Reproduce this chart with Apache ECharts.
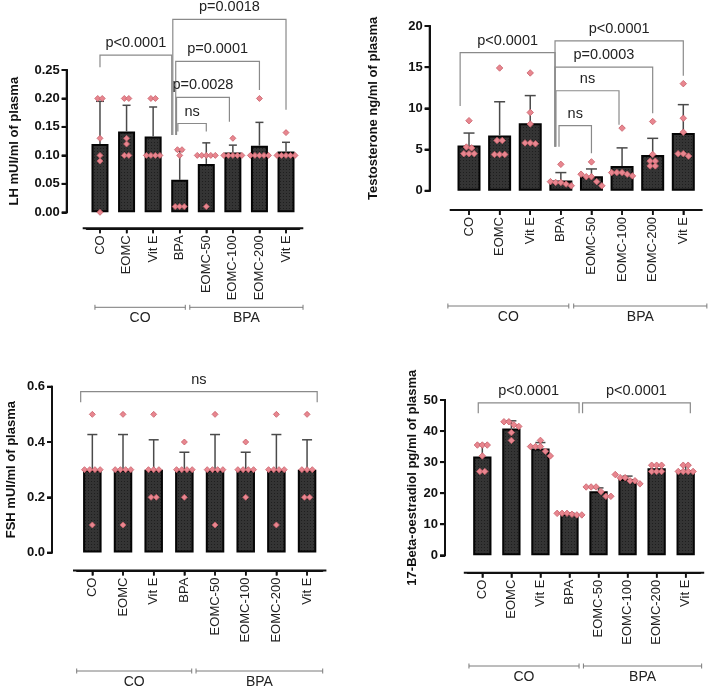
<!DOCTYPE html>
<html>
<head>
<meta charset="utf-8">
<script src="https://cdn.jsdelivr.net/npm/echarts@6/dist/echarts.min.js"></script>
<style>
html, body { margin: 0; padding: 0; background: #fff; }
#main { width: 709px; height: 693px; }
</style>
</head>
<body>
<div id="main"></div>
<script>
// groups on the x axis
var categories = ['CO', 'EOMC', 'Vit E', 'BPA', 'EOMC-50', 'EOMC-100', 'EOMC-200', 'Vit E'];
var groupNames = ['CO', 'BPA'];

// LH mUI/ml
var lhMean = [0.120, 0.142, 0.133, 0.057, 0.085, 0.105, 0.117, 0.107];
var lhSd = [0.075, 0.046, 0.052, 0.051, 0.037, 0.013, 0.041, 0.016];
var lhPoints = [
    [0.20, 0.20, 0.13, 0.10, 0.09, 0.00],
    [0.20, 0.20, 0.13, 0.12, 0.10, 0.10],
    [0.20, 0.20, 0.10, 0.10, 0.10, 0.10],
    [0.11, 0.11, 0.10, 0.01, 0.01, 0.01],
    [0.10, 0.10, 0.10, 0.10, 0.10, 0.01],
    [0.13, 0.10, 0.10, 0.10, 0.10, 0.10],
    [0.20, 0.10, 0.10, 0.10, 0.10, 0.10],
    [0.14, 0.10, 0.10, 0.10, 0.10, 0.10]
];
// [left, right, top, left leg end, right leg end] in category units / axis values
var lhBrackets = [
    [0.00, 2.70, 0.276, 0.255, 0.136],
    [2.74, 7.00, 0.339, 0.136, 0.180],
    [2.85, 6.00, 0.265, 0.136, 0.215],
    [2.88, 4.87, 0.202, 0.136, 0.159],
    [2.93, 4.00, 0.156, 0.142, 0.142]
];
var lhBracketText = ['p<0.0001', 'p=0.0018', 'p=0.0001', 'p=0.0028', 'ns'];

// Testosterone ng/ml
var tMean = [5.5, 6.7, 8.2, 1.25, 1.75, 3.0, 4.33, 7.0];
var tSd = [1.5, 4.1, 3.35, 0.95, 0.89, 2.2, 2.03, 3.45];
var tPoints = [
    [8.5, 5.3, 5.2, 4.5, 4.5, 4.5],
    [14.9, 6.1, 6.1, 4.4, 4.4, 4.4],
    [14.3, 9.5, 8.1, 5.8, 5.8, 5.7],
    [3.2, 1.1, 1.0, 1.0, 0.8, 0.6],
    [3.5, 2.0, 1.7, 1.7, 1.1, 0.6],
    [7.6, 2.2, 2.2, 2.2, 2.0, 1.8],
    [8.4, 4.4, 3.6, 3.6, 3.0, 3.0],
    [13.0, 8.8, 7.1, 4.5, 4.5, 4.2]
];
var tBrackets = [
    [-0.29, 2.81, 16.76, 10.3, 5.35],
    [2.81, 7.00, 18.2, 5.35, 13.96],
    [2.81, 6.00, 15.0, 5.35, 9.4],
    [2.84, 4.90, 12.14, 5.35, 8.0],
    [2.94, 4.00, 7.9, 5.35, 4.54]
];
var tBracketText = ['p<0.0001', 'p<0.0001', 'p=0.0003', 'ns', 'ns'];

// FSH mUI/ml
var fshMean = [0.30, 0.30, 0.30, 0.30, 0.30, 0.30, 0.30, 0.30];
var fshSd = [0.127, 0.127, 0.108, 0.063, 0.127, 0.063, 0.127, 0.108];
var fshPoints = [
    [0.5, 0.3, 0.3, 0.3, 0.3, 0.1],
    [0.5, 0.3, 0.3, 0.3, 0.3, 0.1],
    [0.5, 0.3, 0.3, 0.3, 0.2, 0.2],
    [0.4, 0.3, 0.3, 0.3, 0.3, 0.2],
    [0.5, 0.3, 0.3, 0.3, 0.3, 0.1],
    [0.4, 0.3, 0.3, 0.3, 0.3, 0.2],
    [0.5, 0.3, 0.3, 0.3, 0.3, 0.1],
    [0.5, 0.3, 0.3, 0.3, 0.2, 0.2]
];
var fshBrackets = [
    [-0.38, 7.33, 0.582, 0.544, 0.544]
];
var fshBracketText = ['ns'];

// 17-Beta-oestradiol pg/ml
var e2Mean = [31.8, 40.8, 34.4, 13.3, 20.6, 24.6, 28.0, 27.5];
var e2Sd = [3.9, 2.5, 1.9, 0.3, 1.1, 0.9, 1.0, 1.5];
var e2Points = [
    [35.5, 35.5, 35.5, 32.0, 27.0, 27.0],
    [43.0, 43.0, 42.0, 41.5, 39.5, 37.0],
    [37.0, 35.0, 35.0, 35.0, 33.5, 32.0],
    [13.5, 13.5, 13.5, 13.2, 13.0, 13.0],
    [22.0, 22.0, 22.0, 20.5, 19.0, 19.0],
    [26.0, 25.0, 25.0, 24.0, 24.0, 23.0],
    [29.0, 29.0, 29.0, 27.0, 27.0, 27.0],
    [29.0, 29.0, 27.0, 27.0, 27.0, 27.0]
];
var e2Brackets = [
    [-0.14, 3.33, 49.1, 45.7, 45.7],
    [3.45, 7.16, 49.1, 45.7, 45.7]
];
var e2BracketText = ['p<0.0001', 'p<0.0001'];

var FONT = '"Liberation Sans", Arial, Helvetica, sans-serif';

// dotted dark fill like the prism bars
var pat = document.createElement('canvas');
pat.width = 3; pat.height = 3;
var pg = pat.getContext('2d');
pg.fillStyle = '#343434';
pg.fillRect(0, 0, 3, 3);
pg.fillStyle = '#1e1e1e';
pg.fillRect(1, 1, 1, 1);

var panels = [
    {mean: lhMean, sd: lhSd, pts: lhPoints, br: lhBrackets, brText: lhBracketText,
     left: 86.7, top: 70, width: 212.6, height: 142.3, max: 0.25, interval: 0.05, dec: 2,
     yOff: 20, xOff: 16, barW: 17, cap: 8, sym: 6, nameGap: 46,
     name: 'LH mUI/ml of plasma', grpGap: 95, grpSpans: [[-0.19, 3.21], [3.38, 7.64]]},
    {mean: tMean, sd: tSd, pts: tPoints, br: tBrackets, brText: tBracketText,
     left: 453.7, top: 26, width: 244.9, height: 164.7, max: 20, interval: 5, dec: 0,
     yOff: 24, xOff: 19.3, barW: 23, cap: 11, sym: 6.5, nameGap: 50,
     name: 'Testosterone ng/ml of plasma', grpGap: 115.3, grpSpans: [[-0.69, 3.26], [3.42, 7.77]]},
    {mean: fshMean, sd: fshSd, pts: fshPoints, br: fshBrackets, brText: fshBracketText,
     left: 77, top: 386.7, width: 245.4, height: 165.9, max: 0.6, interval: 0.2, dec: 1,
     yOff: 25, xOff: 18, barW: 18.5, cap: 10, sym: 6, nameGap: 34,
     name: 'FSH mUI/ml of plasma', grpGap: 118.4, grpSpans: [[-0.51, 3.24], [3.38, 7.51]]},
    {mean: e2Mean, sd: e2Sd, pts: e2Points, br: e2Brackets, brText: e2BracketText,
     left: 467.8, top: 400, width: 232.4, height: 155.3, max: 50, interval: 10, dec: 0,
     yOff: 22.8, xOff: 17.4, barW: 18.3, cap: 10, sym: 6.5, nameGap: 26,
     name: '17-Beta-oestradiol pg/ml of plasma', grpGap: 110.7, grpSpans: [[-0.46, 3.33], [3.48, 7.55]]}
];

// spread points with (nearly) equal values side by side, like a scatter dot plot
function spread(vals, tol, i, band) {
    var sorted = vals.slice().sort(function (a, b) { return b - a; });
    var out = [], cluster = [];
    function flush() {
        var n = cluster.length;
        cluster.forEach(function (v, k) {
            out.push({value: [i, v], symbolOffset: [(k - (n - 1) / 2) * 0.17 * band, 0]});
        });
        cluster = [];
    }
    sorted.forEach(function (v) {
        if (cluster.length && Math.abs(cluster[cluster.length - 1] - v) > tol) flush();
        cluster.push(v);
    });
    if (cluster.length) flush();
    return out;
}

function errorRender(capW) {
    return function (params, api) {
        var x = api.value(0), m = api.value(1), s = api.value(2);
        var p0 = api.coord([x, m]), p1 = api.coord([x, m + s]);
        var st = {stroke: '#4a4a4a', lineWidth: 1.5};
        return {type: 'group', children: [
            {type: 'line', shape: {x1: p0[0], y1: p0[1], x2: p1[0], y2: p1[1]}, style: st},
            {type: 'line', shape: {x1: p1[0] - capW / 2, y1: p1[1], x2: p1[0] + capW / 2, y2: p1[1]}, style: st}
        ]};
    };
}

// data: [0, top, left, right, left leg end, right leg end]; x in category units from the first bar
function bracketRender(texts, band) {
    return function (params, api) {
        var x0 = api.coord([0, 0])[0];
        var top = api.coord([0, api.value(1)])[1];
        var xl = x0 + api.value(2) * band, xr = x0 + api.value(3) * band;
        var yl = api.coord([0, api.value(4)])[1], yr = api.coord([0, api.value(5)])[1];
        return {type: 'group', children: [
            {type: 'polyline', shape: {points: [[xl, yl], [xl, top], [xr, top], [xr, yr]]},
             style: {stroke: '#8a8a8a', lineWidth: 1.2, fill: 'none'}},
            {type: 'text', style: {text: texts[params.dataIndex], x: (xl + xr) / 2, y: top - 12,
             align: 'center', verticalAlign: 'middle', fontSize: 14.5, fontFamily: FONT, fill: '#222'}}
        ]};
    };
}

// data: [0, 0, start, end]
function groupRender(gap, band) {
    return function (params, api) {
        var o = api.coord([0, 0]);
        var base = o[1] + gap;
        var x1 = o[0] + api.value(2) * band, x2 = o[0] + api.value(3) * band;
        var st = {stroke: '#7a7a7a', lineWidth: 1};
        return {type: 'group', children: [
            {type: 'line', shape: {x1: x1, y1: base, x2: x2, y2: base}, style: st},
            {type: 'line', shape: {x1: x1, y1: base - 2.5, x2: x1, y2: base + 2.5}, style: st},
            {type: 'line', shape: {x1: x2, y1: base - 2.5, x2: x2, y2: base + 2.5}, style: st},
            {type: 'text', style: {text: groupNames[params.dataIndex], x: (x1 + x2) / 2, y: base + 11,
             align: 'center', verticalAlign: 'middle', fontSize: 14, fontFamily: FONT, fill: '#222'}}
        ]};
    };
}

// offset axis lines with ticks, prism style (detached from the plot corner)
function axisRender(p, band) {
    return function (params, api) {
        var o = api.coord([0, 0]);
        var st = {stroke: '#111', lineWidth: 2};
        var yx = o[0] - band / 2 - p.yOff;
        var yTop = api.coord([0, p.max])[1];
        var xy = o[1] + p.xOff;
        var kids = [
            {type: 'line', shape: {x1: yx, y1: o[1] + 1, x2: yx, y2: yTop - 1}, style: st},
            {type: 'line', shape: {x1: o[0] - band / 2 - 4, y1: xy, x2: o[0] + (categories.length - 0.5) * band + 4, y2: xy}, style: st}
        ];
        var n = Math.round(p.max / p.interval);
        for (var k = 0; k <= n; k++) {
            var ty = api.coord([0, k * p.interval])[1];
            kids.push({type: 'line', shape: {x1: yx - 5, y1: ty, x2: yx, y2: ty}, style: st});
        }
        for (var c = 0; c < categories.length; c++) {
            var tx = o[0] + c * band;
            kids.push({type: 'line', shape: {x1: tx, y1: xy, x2: tx, y2: xy + 5}, style: {stroke: '#111', lineWidth: 1.5}});
        }
        return {type: 'group', children: kids};
    };
}

var grid = [], xAxis = [], yAxis = [], series = [];

panels.forEach(function (p, i) {
    var band = p.width / categories.length;
    grid.push({left: p.left, top: p.top, width: p.width, height: p.height});
    xAxis.push({
        type: 'category', gridIndex: i, data: categories, offset: p.xOff,
        axisLine: {show: true, onZero: false, lineStyle: {color: '#111', width: 2}},
        axisTick: {show: true, alignWithLabel: true, interval: 0, length: 5, lineStyle: {color: '#111', width: 1.5}},
        axisLabel: {rotate: 90, margin: 7, interval: 0, fontSize: 13, color: '#222', fontFamily: FONT}
    });
    yAxis.push({
        type: 'value', gridIndex: i, min: 0, max: p.max, interval: p.interval, offset: p.yOff,
        splitLine: {show: false},
        axisLine: {show: true, onZero: false, lineStyle: {color: '#111', width: 2}},
        axisTick: {show: true, length: 5, lineStyle: {color: '#111', width: 2}},
        axisLabel: {margin: 7, fontSize: 13, fontWeight: 'bold', color: '#111', fontFamily: FONT,
            formatter: function (v) { return v.toFixed(p.dec); }},
        name: p.name, nameLocation: 'middle', nameGap: p.nameGap,
        nameTextStyle: {fontSize: 13, fontWeight: 'bold', color: '#111', fontFamily: FONT}
    });

    series.push({
        type: 'custom', xAxisIndex: i, yAxisIndex: i, z: 5, clip: false,
        encode: {x: 0, y: 1},
        renderItem: axisRender(p, band),
        data: [[0, 0]]
    });
    series.push({
        type: 'bar', xAxisIndex: i, yAxisIndex: i, barWidth: p.barW,
        itemStyle: {color: {image: pat, repeat: 'repeat'}, borderColor: '#050505', borderWidth: 2},
        data: p.mean
    });
    series.push({
        type: 'custom', xAxisIndex: i, yAxisIndex: i, z: 3, clip: false,
        encode: {x: 0, y: 1},
        renderItem: errorRender(p.cap),
        data: p.mean.map(function (m, k) { return [k, m, p.sd[k]]; })
    });
    var dots = [];
    p.pts.forEach(function (vals, k) {
        dots = dots.concat(spread(vals, p.max * 0.03, k, band));
    });
    series.push({
        type: 'scatter', xAxisIndex: i, yAxisIndex: i, z: 4,
        symbol: 'diamond', symbolSize: p.sym,
        itemStyle: {color: '#e8868f', borderColor: '#c85f6a', borderWidth: 0.8, opacity: 1},
        data: dots
    });
    series.push({
        type: 'custom', xAxisIndex: i, yAxisIndex: i, z: 5, clip: false,
        encode: {x: 0, y: 1},
        renderItem: bracketRender(p.brText, band),
        data: p.br.map(function (b) { return [0, b[2], b[0], b[1], b[3], b[4]]; })
    });
    series.push({
        type: 'custom', xAxisIndex: i, yAxisIndex: i, z: 5, clip: false,
        encode: {x: 0, y: 1},
        renderItem: groupRender(p.grpGap, band),
        data: p.grpSpans.map(function (g) { return [0, 0, g[0], g[1]]; })
    });
});

var chart = echarts.init(document.getElementById('main'));
chart.setOption({
    animation: false,
    backgroundColor: '#fff',
    grid: grid,
    xAxis: xAxis,
    yAxis: yAxis,
    series: series
});
</script>
</body>
</html>
